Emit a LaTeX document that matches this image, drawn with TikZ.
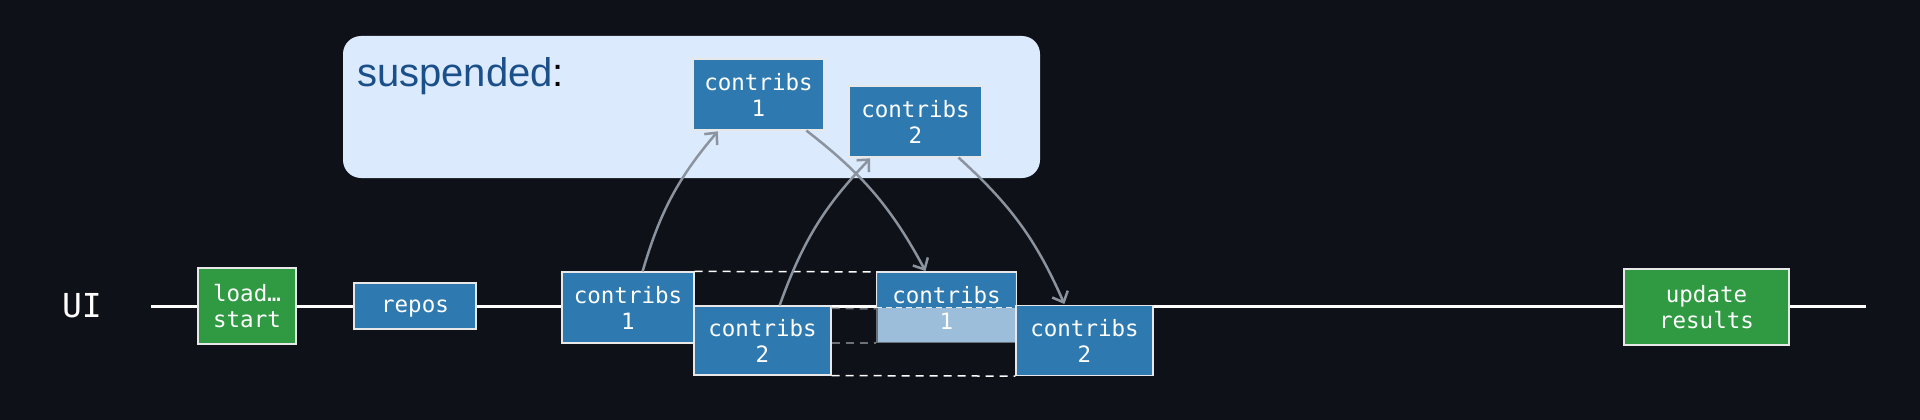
\documentclass[tikz,border=0pt]{standalone}
\usepackage{fontspec}
\setmainfont{Liberation Sans}
\setmonofont{DejaVu Sans Mono}
\usetikzlibrary{arrows.meta}
\definecolor{bg}{HTML}{0E1117}
\definecolor{jobblue}{HTML}{2E7AB0}
\definecolor{jobgreen}{HTML}{2F9A42}
\definecolor{paleblue}{HTML}{9DBEDB}
\definecolor{panel}{HTML}{DCEAFD}
\definecolor{susptext}{HTML}{1B4F8A}
\definecolor{flow}{HTML}{8B939E}
\definecolor{edge}{HTML}{E8E8E8}
\definecolor{ghost}{HTML}{6C7178}

\begin{document}
\begin{tikzpicture}
  [x=1pt,y=-1pt,
   job/.style={draw=edge,line width=1.2pt,fill=jobblue,text=white,align=center,inner sep=0pt,
     font=\ttfamily\fontsize{22.5}{26}\selectfont},
   uijob/.style={job,fill=jobgreen},
   flowarrow/.style={draw=flow,line width=2.5pt,shorten >=1pt,
     -{Straight Barb[length=9pt,width=17pt]}},
   wait/.style={white,line width=1.5pt,dash pattern=on 8pt off 6pt}]
  \fill[bg] (0,0) rectangle (1920,420);
  \useasboundingbox (0,0) rectangle (1920,420);

  \node[fill=panel,rounded corners=18pt,minimum width=697pt,minimum height=142pt,inner sep=0pt] (susp) at (691.5,107) {};
  \node[anchor=base west,inner sep=0pt,text=susptext,font=\fontsize{40}{48}\selectfont] (susplabel) at (357,87) {suspended\textcolor{black}{:}};
  \node[job,minimum width=131pt,minimum height=71pt] (s1) at (758.5,94.5) {contribs\\1};
  \node[job,minimum width=133pt,minimum height=71pt] (s2) at (915.5,121.5) {contribs\\2};

  \node[text=white,inner sep=0pt,font=\ttfamily\fontsize{33}{33}\selectfont] (ui) at (82,306) {UI};
  \coordinate (tl0) at (151,306);
  \coordinate (tl1) at (1866,306);
  \draw[white,line width=3pt] (tl0) -- (tl1);

  \node[uijob,minimum width=98pt,minimum height=76pt] (load) at (247,306) {load…\\start};
  \node[job,text depth=0pt,minimum width=122pt,minimum height=46pt] (repos) at (415,306) {repos};
  \node[job,minimum width=132pt,minimum height=71pt] (ca) at (628,307.5) {contribs\\1};
  \node[job,minimum width=137pt,minimum height=69pt] (cb) at (762.5,340.5) {contribs\\2};
  \node[job,draw=ghost,minimum width=139pt,minimum height=70pt,
    path picture={\fill[paleblue] (path picture bounding box.west) rectangle (path picture bounding box.south east);}]
    (cr) at (946.5,307.5) {contribs\\1};
  \draw[edge,line width=1.2pt] (cr.west) |- (cr.north east) -- (cr.east);
  \draw[edge,line width=1pt,dash pattern=on 6pt off 4pt] (cr.west) -- (cr.east);
  \node[job,minimum width=137pt,minimum height=70pt] (cd) at (1084.5,340.5) {contribs\\2};
  \node[uijob,minimum width=165pt,minimum height=76pt] (update) at (1706.5,307) {update\\results};

  \draw[wait] (ca.north east) -- (cr.north west);
  \draw[wait] (cb.south east) -- (cd.south west);
  \draw[wait,ghost] (cb.east |- cr.south) -- (cr.south west);
  \draw[wait,ghost] (cb.north east) ++(0,3) -- ([yshift=-1.5pt]cr.west);

  \foreach \from/\to in {ca.68/s1.222,cb.64/s2.219,s1.323/cr.120,s2.320/cd.119}
    \draw[flowarrow] (\from) to[bend left=12] (\to);
\end{tikzpicture}
\end{document}
